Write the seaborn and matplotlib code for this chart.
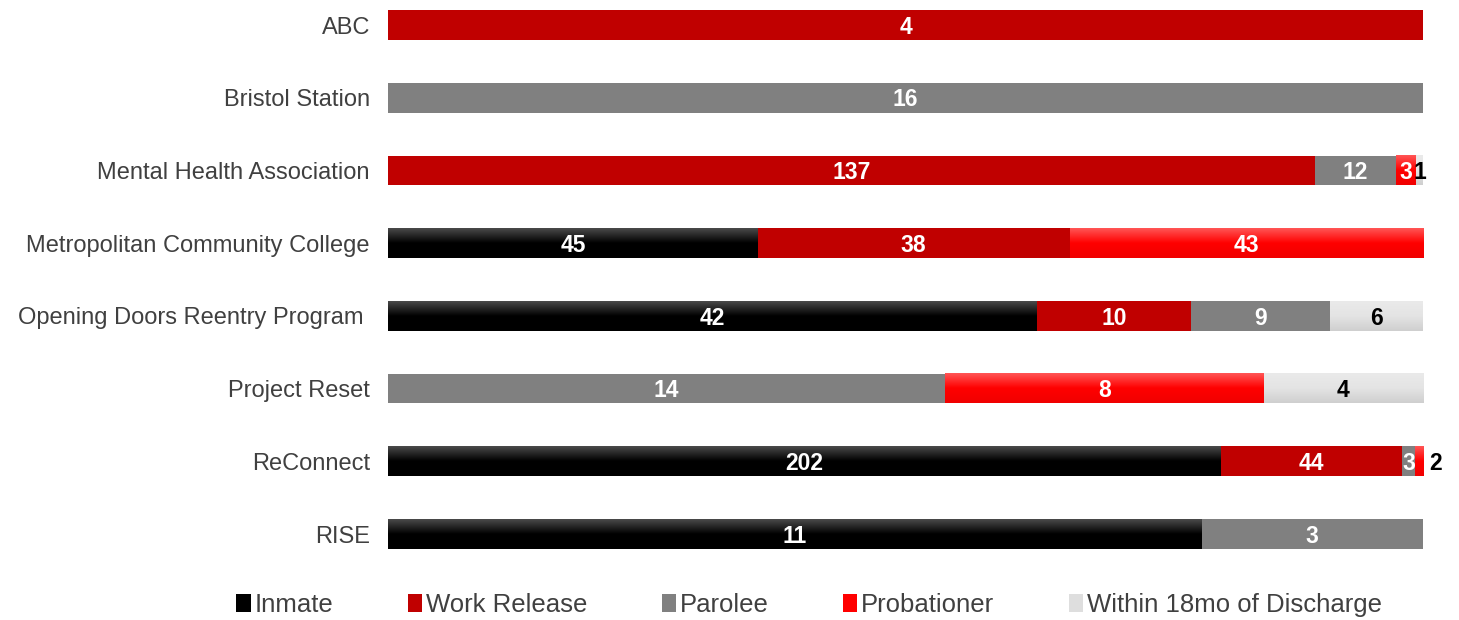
import numpy as np
import pandas as pd
import seaborn as sns
import matplotlib.pyplot as plt
from matplotlib.patches import Patch

# data
programs = ["ABC", "Bristol Station", "Mental Health Association",
            "Metropolitan Community College", "Opening Doors Reentry Program ",
            "Project Reset", "ReConnect", "RISE"]
statuses = ["Inmate", "Work Release", "Parolee", "Probationer", "Within 18mo of Discharge"]
inmate = [0, 0, 0, 45, 42, 0, 202, 11]
work_release = [4, 0, 137, 38, 10, 0, 44, 0]
parolee = [0, 16, 12, 0, 9, 14, 3, 3]
probationer = [0, 0, 3, 43, 0, 8, 2, 0]
within = [0, 0, 1, 0, 6, 4, 0, 0]

colors = {"Inmate": "#000000", "Work Release": "#C00000", "Parolee": "#808080",
          "Probationer": "#FF0000", "Within 18mo of Discharge": "#DEDEDE"}
# top -> bottom colour stops for the gradient fills
gradients = {"Inmate": ["#4A4A4A", "#000000", "#000000"],
             "Probationer": ["#FF5555", "#FF0000", "#F00000"],
             "Within 18mo of Discharge": ["#EAEAEA", "#E4E4E4", "#CFCFCF"]}
text_colors = {"Inmate": "white", "Work Release": "white", "Parolee": "white",
               "Probationer": "white", "Within 18mo of Discharge": "black"}

sns.set_theme(style="white")
plt.rcParams['font.family'] = ['Liberation Sans', 'DejaVu Sans']

df = pd.DataFrame({"Inmate": inmate, "Work Release": work_release, "Parolee": parolee,
                   "Probationer": probationer, "Within 18mo of Discharge": within},
                  index=programs)
pct = df.div(df.sum(axis=1), axis=0) * 100
cum = pct.cumsum(axis=1)

fig = plt.figure(figsize=(14.59, 6.2), dpi=100)
ax = fig.add_axes([388 / 1459, 1 - 570 / 620, 1035 / 1459, 570 / 620])

bar_h = 0.41
# stacked bars: draw cumulative totals from widest to narrowest
for status in reversed(statuses):
    sns.barplot(x=cum[status].values, y=programs, orient="h", color=colors[status],
                saturation=1, width=bar_h, linewidth=0, ax=ax)


def make_grad(stops, n=64):
    rgb = np.array([plt.matplotlib.colors.to_rgb(c) for c in stops])
    pos = np.linspace(0, 1, len(stops))
    t = np.linspace(0, 1, n)
    arr = np.stack([np.interp(t, pos, rgb[:, k]) for k in range(3)], axis=1)
    return arr.reshape(n, 1, 3)


for status, stops in gradients.items():
    img = make_grad(stops)
    for i, prog in enumerate(programs):
        w = pct.loc[prog, status]
        if w > 0:
            right = cum.loc[prog, status]
            ax.imshow(img, extent=[right - w, right, i + bar_h / 2, i - bar_h / 2],
                      aspect="auto", interpolation="bilinear", zorder=3)

# value labels
for i, prog in enumerate(programs):
    for status in statuses:
        v = df.loc[prog, status]
        if v == 0:
            continue
        w = pct.loc[prog, status]
        right = cum.loc[prog, status]
        if prog == "ReConnect" and status == "Probationer":
            ax.text(100.6, i + 0.03, str(v), ha="left", va="center", color="black",
                    fontsize=16.5, fontweight="bold", zorder=5)
        else:
            ax.text(right - w / 2, i + 0.03, str(v), ha="center", va="center",
                    color=text_colors[status], fontsize=16.5, fontweight="bold", zorder=5)

ax.set_xlim(0, 100)
ax.set_ylim(7.495, -0.344)
ax.set_xlabel("")
ax.set_ylabel("")
ax.set_xticks([])
ax.tick_params(axis="y", length=0, pad=13, labelsize=17, labelcolor="#404040")
sns.despine(ax=ax, left=True, bottom=True)

handles = [Patch(facecolor=colors[s], edgecolor="none", label=s) for s in statuses]
fig.legend(handles=handles, loc="center", bbox_to_anchor=(0.5545, 1 - 605 / 620),
           ncol=5, frameon=False, fontsize=18.5, handlelength=0.55, handleheight=0.75,
           handletextpad=0.15, columnspacing=2.9, labelcolor="#404040")

fig.savefig("out.png", dpi=100)
